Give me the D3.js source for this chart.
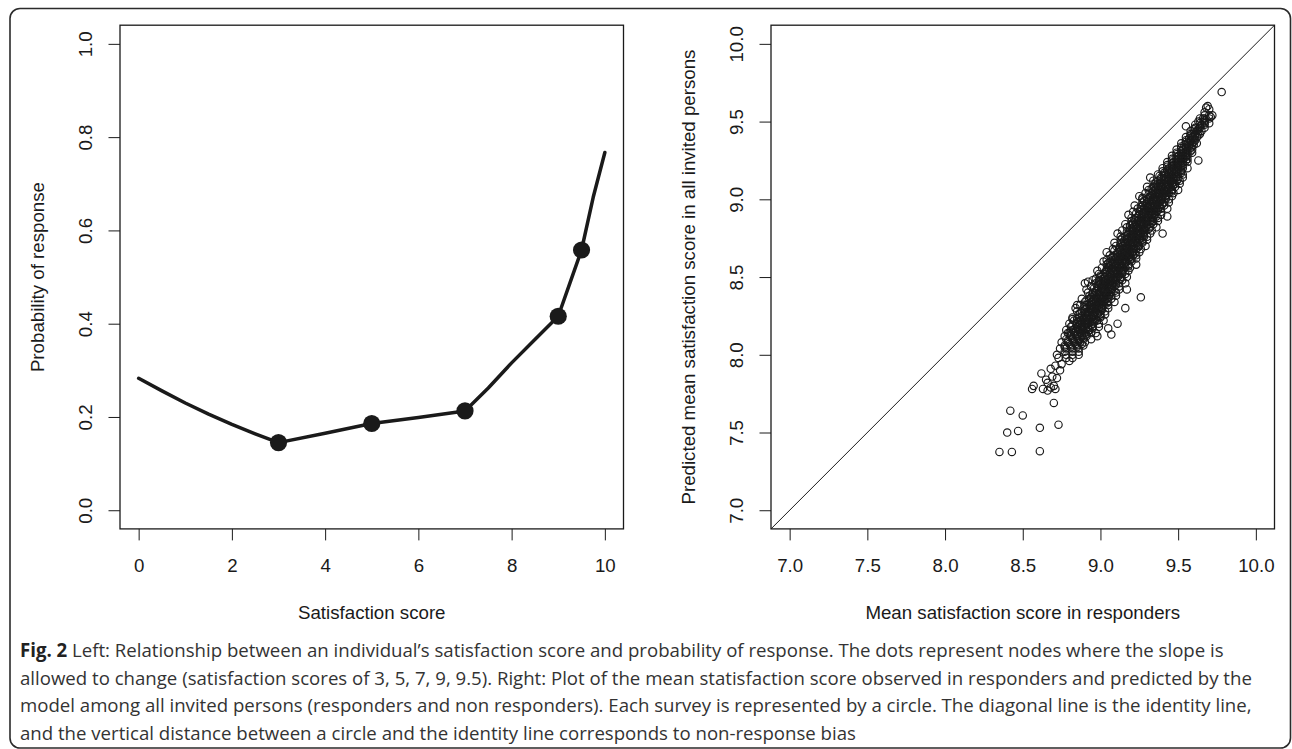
<!DOCTYPE html>
<html>
<head>
<meta charset="utf-8">
<script src="https://cdn.jsdelivr.net/npm/d3@7"></script>
<style>
  body { margin: 0; background: #fff; }
  svg { display: block; }
</style>
</head>
<body>
<svg id="fig" width="1292" height="749"></svg>
<script>
// Fig. 2 - left: response probability vs satisfaction score, right: predicted vs observed means

// left panel: fitted curve and the spline nodes
const curveX = [0, 0.5, 1, 1.5, 2, 2.5, 3, 4, 5, 6, 7, 7.5, 8, 8.5, 9, 9.25, 9.5, 9.75, 10];
const curveY = [0.283, 0.256, 0.230, 0.206, 0.184, 0.164, 0.145, 0.165, 0.186, 0.199, 0.213,
                0.262, 0.316, 0.366, 0.416, 0.487, 0.558, 0.671, 0.767];
const nodeX = [3, 5, 7, 9, 9.5];
const nodeY = [0.145, 0.186, 0.213, 0.416, 0.558];
const leftXTicks = [0, 2, 4, 6, 8, 10];
const leftYTicks = [0, 0.2, 0.4, 0.6, 0.8, 1.0];

// right panel: one circle per survey (observed mean, predicted mean)
const rightTicks = [7, 7.5, 8, 8.5, 9, 9.5, 10];
const outlierPts = [
  [8.35,7.375],[8.43,7.375],[8.61,7.38],[8.40,7.50],[8.47,7.51],[8.61,7.53],[8.73,7.55],
  [8.42,7.64],[8.50,7.61],[8.70,7.69],[8.56,7.78],[8.57,7.80],[8.63,7.78],[8.66,7.77],
  [8.68,7.79],[8.71,7.78],[8.66,7.82],[8.72,7.85],[8.62,7.88],[8.68,7.91],[8.75,7.94],
  [8.80,7.96],[8.69,7.86],[8.74,7.90],[8.70,7.80],[8.65,7.84],[8.71,7.93],
  [8.85,8.32],[8.92,8.47],[9.04,8.61],[9.07,8.13],[9.11,8.20],[9.16,8.30],[8.82,8.23],
  [8.79,8.14],[9.05,8.17],[8.98,8.12],[9.17,8.42],[8.90,8.46],[8.97,8.49],[9.26,8.37],
  [9.43,8.89],[9.27,9.01],[9.40,8.78],[9.63,9.25],[9.55,9.47],[9.70,9.49],[9.72,9.54],
  [9.78,9.69],[9.69,9.60],[9.68,9.59],[9.66,9.52],[9.71,9.53]
];
// dense band, grouped by predicted mean: [y, [x, x, ...]]
const bandRows = [
  [7.98,[8.73,8.78,8.82]],
  [8.00,[8.72,8.78,8.82,8.86]],
  [8.02,[8.77,8.82,8.86]],
  [8.04,[8.74,8.78,8.82,8.86]],
  [8.06,[8.77,8.81,8.85,8.89]],
  [8.08,[8.75,8.79,8.83,8.87,8.90]],
  [8.10,[8.78,8.82,8.86,8.89,8.94]],
  [8.12,[8.77,8.81,8.85,8.88,8.91]],
  [8.14,[8.80,8.83,8.87,8.90,8.94,8.97]],
  [8.16,[8.78,8.82,8.86,8.89,8.93]],
  [8.18,[8.81,8.85,8.88,8.92,8.95,8.99]],
  [8.20,[8.80,8.85,8.87,8.90,8.92,8.95,8.99]],
  [8.22,[8.83,8.87,8.90,8.92,8.95,8.98,9.02]],
  [8.24,[8.82,8.86,8.89,8.91,8.94,8.97,9.00]],
  [8.26,[8.86,8.90,8.92,8.95,8.98,9.00,9.03]],
  [8.28,[8.85,8.88,8.92,8.95,8.97,9.00,9.03]],
  [8.30,[8.84,8.91,8.94,8.96,8.99,9.01,9.05]],
  [8.32,[8.87,8.91,8.94,8.97,8.99,9.02,9.05]],
  [8.34,[8.90,8.94,8.97,8.99,9.02,9.05,9.09]],
  [8.36,[8.88,8.93,8.96,8.98,9.01,9.04,9.07]],
  [8.38,[8.93,8.96,8.99,9.02,9.04,9.07,9.10]],
  [8.40,[8.92,8.95,8.99,9.02,9.04,9.07,9.10]],
  [8.42,[8.91,8.98,9.01,9.03,9.06,9.07,9.12]],
  [8.44,[8.94,8.98,9.01,9.04,9.06,9.09,9.12]],
  [8.46,[8.97,9.00,9.03,9.06,9.08,9.12,9.16]],
  [8.48,[8.95,8.99,9.03,9.05,9.08,9.10,9.14]],
  [8.50,[9.00,9.03,9.06,9.09,9.11,9.13,9.17]],
  [8.52,[8.99,9.02,9.06,9.09,9.11,9.14,9.16]],
  [8.54,[8.98,9.04,9.07,9.10,9.13,9.14,9.18]],
  [8.56,[9.01,9.05,9.08,9.11,9.13,9.16,9.19]],
  [8.58,[9.04,9.07,9.10,9.13,9.15,9.18,9.23]],
  [8.60,[9.02,9.06,9.09,9.12,9.14,9.17,9.20]],
  [8.62,[9.07,9.10,9.13,9.15,9.18,9.20,9.23]],
  [8.64,[9.06,9.09,9.13,9.16,9.18,9.21,9.23]],
  [8.66,[9.04,9.11,9.14,9.17,9.19,9.21,9.25]],
  [8.68,[9.08,9.12,9.15,9.17,9.20,9.23,9.26]],
  [8.70,[9.10,9.14,9.17,9.20,9.22,9.25,9.29]],
  [8.72,[9.09,9.13,9.16,9.19,9.21,9.24,9.27]],
  [8.74,[9.13,9.17,9.20,9.22,9.25,9.27,9.30]],
  [8.76,[9.13,9.16,9.20,9.22,9.25,9.28,9.30]],
  [8.78,[9.11,9.18,9.21,9.24,9.26,9.28,9.32]],
  [8.80,[9.14,9.19,9.21,9.24,9.27,9.29,9.33]],
  [8.82,[9.17,9.21,9.24,9.26,9.29,9.32,9.36]],
  [8.84,[9.16,9.20,9.23,9.26,9.28,9.31,9.34]],
  [8.86,[9.20,9.24,9.26,9.29,9.32,9.34,9.37]],
  [8.88,[9.20,9.23,9.26,9.29,9.31,9.34,9.37]],
  [8.90,[9.18,9.25,9.28,9.31,9.33,9.35,9.39]],
  [8.92,[9.21,9.25,9.28,9.31,9.33,9.36,9.39]],
  [8.94,[9.24,9.28,9.31,9.33,9.36,9.39,9.43]],
  [8.96,[9.22,9.27,9.30,9.32,9.35,9.38,9.41]],
  [8.98,[9.27,9.30,9.33,9.36,9.38,9.41,9.44]],
  [9.00,[9.27,9.30,9.34,9.36,9.39,9.42,9.44]],
  [9.02,[9.25,9.32,9.35,9.38,9.40,9.42,9.46]],
  [9.04,[9.29,9.33,9.36,9.38,9.41,9.44,9.47]],
  [9.06,[9.31,9.35,9.38,9.41,9.43,9.46,9.50]],
  [9.08,[9.30,9.34,9.37,9.40,9.42,9.45,9.48]],
  [9.10,[9.35,9.38,9.41,9.43,9.46,9.48,9.51]],
  [9.12,[9.34,9.37,9.41,9.44,9.46,9.49,9.51]],
  [9.14,[9.32,9.39,9.42,9.45,9.47,9.49,9.53]],
  [9.16,[9.37,9.41,9.44,9.47,9.50,9.53]],
  [9.18,[9.40,9.43,9.46,9.49,9.52]],
  [9.20,[9.40,9.44,9.47,9.50,9.53,9.56]],
  [9.22,[9.43,9.47,9.50,9.53]],
  [9.24,[9.43,9.47,9.50,9.53,9.56]],
  [9.26,[9.46,9.50,9.53,9.56]],
  [9.28,[9.46,9.50,9.53,9.56]],
  [9.30,[9.49,9.53,9.56,9.59]],
  [9.32,[9.49,9.53,9.56,9.59]],
  [9.34,[9.52,9.55,9.59]],
  [9.36,[9.52,9.56,9.59,9.62]],
  [9.38,[9.55,9.58,9.61]],
  [9.40,[9.55,9.59,9.62]],
  [9.42,[9.58,9.61,9.64]],
  [9.44,[9.58,9.62,9.65]],
  [9.46,[9.61,9.64,9.67]],
  [9.48,[9.61,9.65,9.67]],
  [9.50,[9.63,9.67]],
  [9.52,[9.64,9.67,9.70]],
  [9.54,[9.67,9.70]],
  [9.56,[9.67]],
  [9.58,[9.70]]
];
// in-between rows of the band, where the circles pile up most
const bandRowsMid = [
  [8.05,[8.77,8.81,8.85]],
  [8.07,[8.80,8.84,8.88]],
  [8.09,[8.79,8.83,8.86]],
  [8.11,[8.82,8.85,8.89]],
  [8.13,[8.81,8.85,8.88,8.91]],
  [8.15,[8.81,8.84,8.87,8.89,8.92]],
  [8.17,[8.84,8.87,8.89,8.92,8.95]],
  [8.19,[8.82,8.86,8.88,8.91,8.94]],
  [8.21,[8.85,8.88,8.91,8.93,8.96]],
  [8.23,[8.85,8.89,8.91,8.94,8.97]],
  [8.25,[8.88,8.91,8.94,8.96,9.00]],
  [8.27,[8.87,8.90,8.93,8.96,8.98]],
  [8.29,[8.90,8.93,8.95,8.98,9.01]],
  [8.31,[8.90,8.93,8.96,8.98,9.01]],
  [8.33,[8.93,8.96,8.98,9.01,9.04]],
  [8.35,[8.91,8.95,8.97,9.00,9.03]],
  [8.37,[8.94,8.97,9.00,9.02,9.05]],
  [8.39,[8.95,8.98,9.00,9.03,9.06]],
  [8.41,[8.97,9.00,9.03,9.05,9.09]],
  [8.43,[8.96,8.99,9.02,9.05,9.07]],
  [8.45,[8.99,9.02,9.05,9.07,9.10]],
  [8.47,[8.99,9.02,9.05,9.07,9.10]],
  [8.49,[9.02,9.05,9.07,9.10,9.13]],
  [8.51,[9.00,9.04,9.07,9.09,9.12]],
  [8.53,[9.03,9.06,9.09,9.11,9.14]],
  [8.55,[9.04,9.07,9.09,9.12,9.15]],
  [8.57,[9.06,9.09,9.12,9.14,9.18]],
  [8.59,[9.05,9.08,9.11,9.14,9.16]],
  [8.61,[9.08,9.11,9.14,9.16,9.19]],
  [8.63,[9.08,9.11,9.14,9.17,9.19]],
  [8.65,[9.11,9.14,9.16,9.19,9.22]],
  [8.67,[9.09,9.13,9.16,9.18,9.21]],
  [8.69,[9.12,9.16,9.18,9.21,9.24]],
  [8.71,[9.13,9.16,9.19,9.21,9.24]],
  [8.73,[9.15,9.18,9.21,9.23,9.27]],
  [8.75,[9.14,9.17,9.20,9.23,9.25]],
  [8.77,[9.17,9.20,9.23,9.25,9.28]],
  [8.79,[9.17,9.20,9.23,9.26,9.28]],
  [8.81,[9.20,9.23,9.25,9.28,9.31]],
  [8.83,[9.19,9.22,9.25,9.27,9.30]],
  [8.85,[9.21,9.25,9.27,9.30,9.33]],
  [8.87,[9.22,9.25,9.28,9.30,9.33]],
  [8.89,[9.24,9.27,9.30,9.33,9.36]],
  [8.91,[9.23,9.27,9.29,9.32,9.34]],
  [8.93,[9.26,9.29,9.32,9.34,9.37]],
  [8.95,[9.26,9.30,9.32,9.35,9.38]],
  [8.97,[9.29,9.32,9.34,9.37,9.40]],
  [8.99,[9.28,9.31,9.34,9.36,9.39]],
  [9.01,[9.31,9.34,9.37,9.39,9.42]],
  [9.03,[9.31,9.35,9.37,9.40,9.43]],
  [9.05,[9.34,9.37,9.40,9.42,9.46]],
  [9.07,[9.33,9.36,9.39,9.42,9.44]],
  [9.09,[9.36,9.39,9.42,9.44,9.47]],
  [9.11,[9.36,9.39,9.42,9.45,9.47]],
  [9.13,[9.39,9.42,9.44,9.47,9.50]],
  [9.15,[9.38,9.41,9.44,9.46,9.49]],
  [9.17,[9.41,9.44,9.46,9.49,9.52]],
  [9.19,[9.43,9.46,9.49,9.52]],
  [9.21,[9.43,9.46,9.49,9.52]],
  [9.23,[9.46,9.49,9.52]],
  [9.25,[9.46,9.49,9.52,9.55]],
  [9.27,[9.49,9.52,9.55]],
  [9.29,[9.49,9.52,9.55]],
  [9.31,[9.52,9.55,9.58]],
  [9.33,[9.52,9.55,9.58]],
  [9.35,[9.54,9.57,9.60]],
  [9.37,[9.55,9.58,9.60]],
  [9.39,[9.57,9.60]],
  [9.41,[9.58,9.61,9.63]],
  [9.43,[9.60,9.63]],
  [9.45,[9.60,9.63]],
  [9.47,[9.64]],
  [9.49,[9.64,9.67]],
  [9.51,[9.67]]
];

const captionLead = 'Fig. 2';
const captionLines = [
  ' Left: Relationship between an individual\u2019s satisfaction score and probability of response. The dots represent nodes where the slope is',
  'allowed to change (satisfaction scores of 3, 5, 7, 9, 9.5). Right: Plot of the mean statisfaction score observed in responders and predicted by the',
  'model among all invited persons (responders and non responders). Each survey is represented by a circle. The diagonal line is the identity line,',
  'and the vertical distance between a circle and the identity line corresponds to non-response bias'
];

const FONT = '"Liberation Sans", Arial, Helvetica, sans-serif';
const ink = '#1a1a1a';
const fs = 18.7;
const svg = d3.select('#fig');

// outer rounded frame
svg.append('rect').attr('x', 10).attr('y', 8.5).attr('width', 1280.5).attr('height', 739.5)
  .attr('rx', 10).attr('fill', 'none').attr('stroke', '#2b2b2b').attr('stroke-width', 1.6);

function panel(box, xDom, yDom, xTicks, yTicks, xFmt, xTitle, yTitle) {
  const x = d3.scaleLinear().domain(xDom).range([box.l, box.r]);
  const y = d3.scaleLinear().domain(yDom).range([box.b, box.t]);
  const g = svg.append('g');

  g.append('g').attr('transform', `translate(0,${box.b})`)
    .call(d3.axisBottom(x).tickValues(xTicks).tickFormat(xFmt).tickSize(11.5).tickPadding(18.8))
    .attr('font-family', FONT).attr('font-size', fs)
    .call(a => a.select('.domain').remove())
    .call(a => a.selectAll('line').attr('stroke', ink))
    .call(a => a.selectAll('text').attr('fill', ink));

  g.append('g').attr('transform', `translate(${box.l},0)`)
    .call(d3.axisLeft(y).tickValues(yTicks).tickFormat(d3.format('.1f')).tickSize(11.5))
    .attr('font-family', FONT).attr('font-size', fs)
    .call(a => a.select('.domain').remove())
    .call(a => a.selectAll('line').attr('stroke', ink))
    .call(a => a.selectAll('text').attr('fill', ink).attr('x', 0).attr('y', 0).attr('dy', null)
      .attr('text-anchor', 'middle').attr('transform', 'translate(-28.2,0) rotate(-90)'));

  g.append('rect').attr('x', box.l).attr('y', box.t)
    .attr('width', box.r - box.l).attr('height', box.b - box.t)
    .attr('fill', 'none').attr('stroke', ink).attr('stroke-width', 1.3);

  g.append('text').attr('x', (box.l + box.r) / 2).attr('y', 618.5)
    .attr('text-anchor', 'middle').attr('font-family', FONT).attr('font-size', fs)
    .attr('fill', ink).text(xTitle);

  g.append('text').attr('transform', `translate(${box.l - 75.7},${(box.t + box.b) / 2}) rotate(-90)`)
    .attr('text-anchor', 'middle').attr('font-family', FONT).attr('font-size', fs)
    .attr('fill', ink).text(yTitle);

  return { g, x, y };
}

// ---- left panel
const L = panel({ l: 120, r: 623.5, t: 25.2, b: 528.9 }, [-0.4, 10.4], [-0.04, 1.04],
  leftXTicks, leftYTicks, d3.format('d'), 'Satisfaction score', 'Probability of response');

L.g.append('path').datum(d3.zip(curveX, curveY))
  .attr('d', d3.line().x(d => L.x(d[0])).y(d => L.y(d[1])))
  .attr('fill', 'none').attr('stroke', ink).attr('stroke-width', 3.5)
  .attr('stroke-linejoin', 'round').attr('stroke-linecap', 'round');

L.g.selectAll('circle.node').data(d3.zip(nodeX, nodeY)).join('circle')
  .attr('class', 'node').attr('cx', d => L.x(d[0])).attr('cy', d => L.y(d[1]))
  .attr('r', 8.6).attr('fill', ink);

// ---- right panel
const R = panel({ l: 771, r: 1274.5, t: 25.2, b: 528.9 }, [6.88, 10.12], [6.88, 10.12],
  rightTicks, rightTicks, d3.format('.1f'), 'Mean satisfaction score in responders',
  'Predicted mean satisfaction score in all invited persons');

svg.append('clipPath').attr('id', 'rclip').append('rect')
  .attr('x', 771).attr('y', 25.2).attr('width', 503.5).attr('height', 503.7);

R.g.append('line').attr('clip-path', 'url(#rclip)')
  .attr('x1', R.x(6.88)).attr('y1', R.y(6.88)).attr('x2', R.x(10.12)).attr('y2', R.y(10.12))
  .attr('stroke', ink).attr('stroke-width', 1);

const rowsToPts = rows => rows.flatMap(([yv, xs]) => xs.map(xv => [xv, yv]));
const surveys = outlierPts.concat(rowsToPts(bandRows), rowsToPts(bandRowsMid));
R.g.append('g').selectAll('circle').data(surveys).join('circle')
  .attr('cx', d => R.x(d[0])).attr('cy', d => R.y(d[1])).attr('r', 3.7)
  .attr('fill', 'none').attr('stroke', ink).attr('stroke-width', 1.15);

// ---- caption
const capY = [657, 684.5, 712, 739.5];
const cap = svg.append('g').attr('font-family', '"Open Sans", "Noto Sans", sans-serif')
  .attr('font-size', 19).attr('fill', '#333');
const capText = cap.selectAll('text').data(captionLines).join('text')
  .attr('x', 0).attr('y', 0);
capText.each(function (d, i) {
  const t = d3.select(this);
  if (i === 0) t.append('tspan').attr('font-weight', 700).attr('fill', '#222').text(captionLead);
  t.append('tspan').text(d);
});
const sx = 1233 / capText.nodes()[1].getComputedTextLength();
capText.attr('transform', (d, i) => `translate(20,${capY[i]}) scale(${sx},1)`);
</script>
</body>
